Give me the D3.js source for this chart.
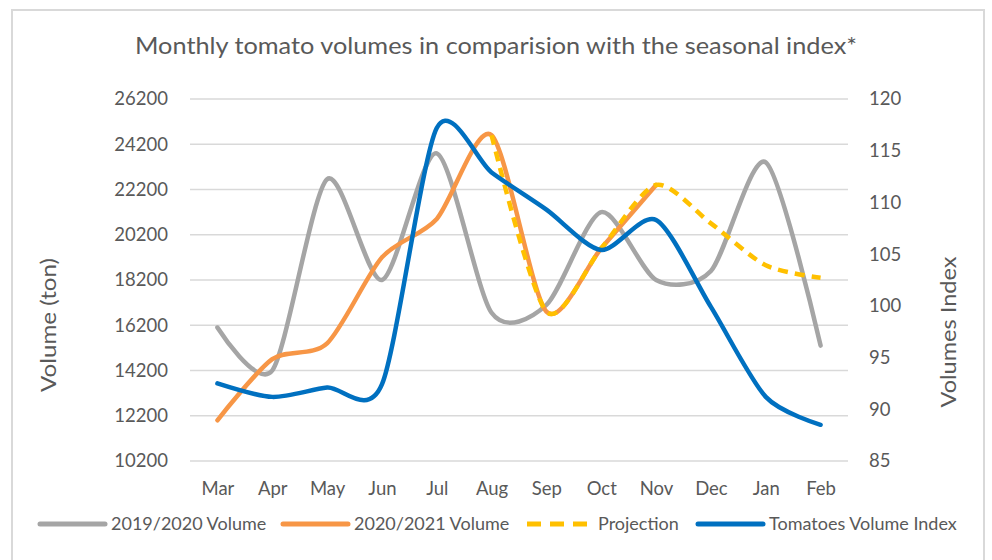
<!DOCTYPE html>
<html>
<head>
<meta charset="utf-8">
<script src="https://cdn.jsdelivr.net/npm/d3@7"></script>
<style>
  body { margin: 0; background: #fff; }
  svg { font-family: Lato, "Open Sans", sans-serif; }
</style>
</head>
<body>
<div id="chart"></div>
<script>
// months on the x axis
const months = ["Mar", "Apr", "May", "Jun", "Jul", "Aug", "Sep", "Oct", "Nov", "Dec", "Jan", "Feb"];

// left axis series (ton)
const vol1920 = [16100, 14200, 22650, 18200, 23800, 16750, 17100, 21200, 18200, 18600, 23400, 15300];
const vol2021 = [12000, 14700, 15400, 19200, 20900, 24600, 16800, 19600, 22400, null, null, null];
const projection = [null, null, null, null, null, 24600, 16800, 19600, 22400, 20700, 18850, 18300];

// right axis series (index)
const volIndex = [92.5, 91.2, 92.1, 92.4, 117.2, 112.9, 109.3, 105.4, 108.3, 99.9, 91.2, 88.5];

const leftTicks = d3.range(10200, 26201, 2000);
const rightTicks = d3.range(85, 121, 5);

const width = 992, height = 560;
const plot = { left: 190, right: 848, top: 99, bottom: 461 };

let svg = d3.select("#chart")
    .append("svg")
    .attr("width", width)
    .attr("height", height);

// chart border
svg.append("rect")
    .attr("x", 12).attr("y", 10)
    .attr("width", 972).attr("height", 560)
    .attr("fill", "#fff")
    .attr("stroke", "#d9d9d9")
    .attr("stroke-width", 2);

let x = d3.scalePoint()
    .domain(months)
    .range([plot.left, plot.right])
    .padding(0.5);

let yLeft = d3.scaleLinear().domain([10200, 26200]).range([plot.bottom, plot.top]);
let yRight = d3.scaleLinear().domain([85, 120]).range([plot.bottom, plot.top]);

// gridlines
svg.append("g")
    .selectAll("line")
    .data(leftTicks)
    .join("line")
    .attr("x1", plot.left).attr("x2", plot.right)
    .attr("y1", d => yLeft(d)).attr("y2", d => yLeft(d))
    .attr("stroke", "#d9d9d9")
    .attr("stroke-width", 1.5);

// left axis
let axL = svg.append("g")
    .attr("transform", `translate(${plot.left - 22},0)`)
    .call(d3.axisLeft(yLeft).tickValues(leftTicks).tickSize(0).tickPadding(0).tickFormat(d3.format("d")));
axL.select(".domain").remove();

// right axis
let axR = svg.append("g")
    .attr("transform", `translate(${plot.right + 21},0)`)
    .call(d3.axisRight(yRight).tickValues(rightTicks).tickSize(0).tickPadding(0));
axR.select(".domain").remove();

// x axis
let axX = svg.append("g")
    .attr("transform", `translate(0,${plot.bottom + 17})`)
    .call(d3.axisBottom(x).tickSize(0).tickPadding(0));
axX.select(".domain").remove();

svg.selectAll(".tick text")
    .attr("fill", "#595959")
    .style("font-size", "18.5px")
    .style("font-family", "Lato, sans-serif");
axX.selectAll(".tick text").attr("dy", "0.9em");

// title
svg.append("text")
    .attr("x", 496).attr("y", 54)
    .attr("text-anchor", "middle")
    .attr("fill", "#595959")
    .attr("textLength", 722)
    .attr("lengthAdjust", "spacingAndGlyphs")
    .style("font-size", "24px")
    .text("Monthly tomato volumes in comparision with the seasonal index*");

// axis titles
svg.append("text")
    .attr("transform", "translate(56,325) rotate(-90)")
    .attr("text-anchor", "middle")
    .attr("fill", "#595959")
    .attr("textLength", 134)
    .attr("lengthAdjust", "spacingAndGlyphs")
    .style("font-size", "22px")
    .text("Volume (ton)");

svg.append("text")
    .attr("transform", "translate(956,332) rotate(-90)")
    .attr("text-anchor", "middle")
    .attr("fill", "#595959")
    .attr("textLength", 151)
    .attr("lengthAdjust", "spacingAndGlyphs")
    .style("font-size", "22px")
    .text("Volumes Index");

// series
const series = [
    { name: "2019/2020 Volume", values: vol1920, y: yLeft, color: "#a5a5a5", dash: null },
    { name: "2020/2021 Volume", values: vol2021, y: yLeft, color: "#f79646", dash: null },
    { name: "Projection", values: projection, y: yLeft, color: "#ffc000", dash: "10,7" },
    { name: "Tomatoes Volume Index", values: volIndex, y: yRight, color: "#0070c0", dash: null }
];

series.forEach(function (s) {
    let line = d3.line()
        .defined(d => d != null)
        .x((d, i) => x(months[i]))
        .y(d => s.y(d))
        .curve(d3.curveCardinal.tension(0.2));
    svg.append("path")
        .datum(s.values)
        .attr("fill", "none")
        .attr("stroke", s.color)
        .attr("stroke-width", 4.5)
        .attr("stroke-linecap", s.dash ? "butt" : "round")
        .attr("stroke-linejoin", "round")
        .attr("stroke-dasharray", s.dash)
        .attr("d", line);
});

// legend
const legendX = [40, 283, 527, 698];
let legend = svg.append("g")
    .selectAll("g")
    .data(series)
    .join("g")
    .attr("transform", (d, i) => `translate(${legendX[i]},524)`);

legend.append("line")
    .attr("x1", 0).attr("x2", 65)
    .attr("stroke", d => d.color)
    .attr("stroke-width", 5)
    .attr("stroke-linecap", d => d.dash ? "butt" : "round")
    .attr("stroke-dasharray", d => d.dash ? "14,9" : null);

legend.append("text")
    .attr("x", 71)
    .attr("dy", "0.35em")
    .attr("fill", "#595959")
    .style("font-size", "18px")
    .text(d => d.name);
</script>
</body>
</html>
